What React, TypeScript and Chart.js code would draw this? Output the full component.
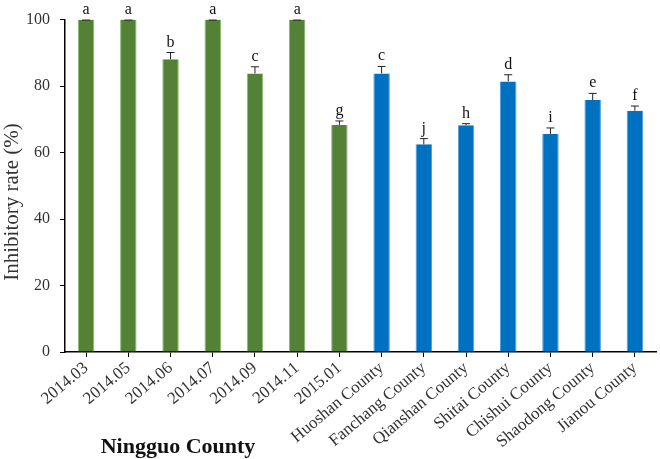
import React, { useEffect, useRef } from "react";
import { Chart, registerables } from "chart.js";

Chart.register(...registerables);

const categories = [
  "2014.03", "2014.05", "2014.06", "2014.07", "2014.09", "2014.11", "2015.01",
  "Huoshan County", "Fanchang County", "Qianshan County", "Shitai County",
  "Chishui County", "Shaodong County", "Jianou County",
];
const values = [100, 100, 88.1, 100, 83.8, 100, 68.3, 83.8, 62.5, 68.2, 81.4, 65.6, 75.8, 72.6];
const errors = [0, 0, 2.0, 0, 2.0, 0, 1.2, 2.1, 1.7, 0.5, 2.0, 1.8, 2.0, 1.4];
const letters = ["a", "a", "b", "a", "c", "a", "g", "c", "j", "h", "d", "i", "e", "f"];
const groupSize = 7; // first 7 bars are Ningguo County
const yTicks = [0, 20, 40, 60, 80, 100];

const GREEN = "#538135";
const BLUE = "#0070C0";
const TEXT = "#333333";

const annotatePlugin = {
  id: "annotate",
  afterDatasetsDraw(chart: any) {
    const ctx = chart.ctx;
    const meta = chart.getDatasetMeta(0);
    const y = chart.scales.y;
    ctx.save();
    meta.data.forEach((bar: any, i: number) => {
      const x = bar.x;
      const top = y.getPixelForValue(values[i] + errors[i]);
      const base = y.getPixelForValue(values[i]);
      ctx.strokeStyle = "#222";
      ctx.lineWidth = 1;
      if (errors[i] > 0) {
        ctx.beginPath();
        ctx.moveTo(x, base);
        ctx.lineTo(x, top);
        ctx.moveTo(x - 4, top);
        ctx.lineTo(x + 4, top);
        ctx.stroke();
      } else {
        ctx.beginPath();
        ctx.moveTo(x - 4, top + 0.5);
        ctx.lineTo(x + 4, top + 0.5);
        ctx.stroke();
      }
      ctx.fillStyle = "#111";
      ctx.font = "16px 'Liberation Serif', serif";
      ctx.textAlign = "center";
      ctx.textBaseline = "alphabetic";
      ctx.fillText(letters[i], x, top - 6);
    });
    // y-axis title
    ctx.save();
    ctx.translate(12, 202);
    ctx.rotate(-Math.PI / 2);
    ctx.fillStyle = TEXT;
    ctx.font = "21px 'Liberation Serif', serif";
    ctx.textAlign = "center";
    ctx.textBaseline = "middle";
    ctx.fillText("Inhibitory rate (%)", 0, 0);
    ctx.restore();
    // group label
    ctx.fillStyle = "#111";
    ctx.font = "bold 22px 'Liberation Serif', serif";
    ctx.textAlign = "center";
    ctx.textBaseline = "alphabetic";
    ctx.fillText("Ningguo County", 178, 453);
    ctx.restore();
  },
};

export default function App() {
  const ref = useRef<HTMLCanvasElement>(null);
  useEffect(() => {
    document.body.style.margin = "0";
    const chart = new Chart(ref.current as HTMLCanvasElement, {
      type: "bar",
      data: {
        labels: categories,
        datasets: [
          {
            data: values,
            backgroundColor: values.map((_, i) => (i < groupSize ? GREEN : BLUE)),
            borderColor: values.map((_, i) => (i < groupSize ? "#8DB870" : "#4F9AD8")),
            borderWidth: { left: 1, right: 1, top: 0, bottom: 0 },
            barPercentage: 0.39,
            categoryPercentage: 1,
          },
        ],
      },
      options: {
        responsive: false,
        animation: false,
        layout: { padding: { top: 16, right: 4, left: 0, bottom: 0 } },
        plugins: { legend: { display: false }, tooltip: { enabled: false } },
        scales: {
          x: {
            grid: { display: true, drawOnChartArea: false, color: "#000", tickLength: 5, offset: false },
            border: { color: "#000", width: 1.5 },
            ticks: {
              color: TEXT,
              font: { family: "'Liberation Serif', serif", size: 17 },
              maxRotation: 40,
              minRotation: 40,
              padding: 1,
              autoSkip: false,
            },
            afterFit: (s: any) => { s.height = 107; },
          },
          y: {
            min: 0,
            max: 100,
            afterBuildTicks: (s: any) => { s.ticks = yTicks.map((v) => ({ value: v })); },
            grid: { display: true, drawOnChartArea: false, color: "#000", tickLength: 5 },
            border: { color: "#000", width: 1.5 },
            ticks: {
              color: TEXT,
              font: { family: "'Liberation Serif', serif", size: 16 },
              padding: 10,
            },
            afterFit: (s: any) => { s.width = 65; },
          },
        },
      },
      plugins: [annotatePlugin],
    });
    return () => chart.destroy();
  }, []);
  return (
    <div style={{ width: 660, height: 459 }}>
      <canvas ref={ref} width={660} height={459} />
    </div>
  );
}
